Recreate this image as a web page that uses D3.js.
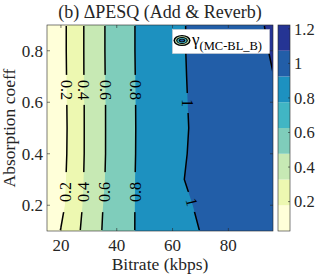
<!DOCTYPE html>
<html>
<head>
<meta charset="utf-8">
<script src="https://cdn.jsdelivr.net/npm/d3@7"></script>
<style>
body { margin: 0; background: #fff; }
text { font-family: "Liberation Serif", "Times New Roman", serif; fill: #262626; }
</style>
</head>
<body>
<svg id="chart" width="332" height="276"></svg>
<script>
// grid: bitrate (columns) x absorption coeff (rows)
const bitrates = [15, 20, 25, 30, 35, 40, 48, 56, 64, 72, 80, 88, 96]
const absorption = [0.1, 0.2, 0.3, 0.4, 0.5, 0.6, 0.7, 0.8, 0.9]
const dPesq = [
  [0.067, 0.208, 0.349, 0.483, 0.609, 0.707, 0.822, 0.892, 0.961, 1.016, 1.05, 1.085, 1.12],
  [0.05, 0.153, 0.32, 0.468, 0.598, 0.697, 0.824, 0.9, 0.981, 1.028, 1.066, 1.102, 1.14],
  [0.04, 0.14, 0.307, 0.456, 0.584, 0.69, 0.824, 0.909, 0.999, 1.037, 1.075, 1.112, 1.15],
  [0.05, 0.129, 0.298, 0.451, 0.579, 0.686, 0.821, 0.905, 0.993, 1.038, 1.079, 1.119, 1.16],
  [0.05, 0.124, 0.297, 0.451, 0.579, 0.685, 0.82, 0.902, 0.989, 1.038, 1.082, 1.126, 1.17],
  [0.05, 0.129, 0.298, 0.451, 0.579, 0.686, 0.821, 0.904, 0.991, 1.042, 1.088, 1.134, 1.18],
  [0.04, 0.132, 0.302, 0.454, 0.582, 0.688, 0.823, 0.906, 0.993, 1.047, 1.097, 1.147, 1.198],
  [0.04, 0.137, 0.303, 0.455, 0.584, 0.69, 0.825, 0.907, 0.995, 1.05, 1.104, 1.157, 1.211],
  [0.03, 0.137, 0.303, 0.455, 0.584, 0.69, 0.825, 0.907, 0.995, 1.053, 1.109, 1.166, 1.222]
]
const levels = [0.2, 0.4, 0.6, 0.8, 1, 1.2]
const palette = ['#ffffd9', '#edf8b1', '#c7e9b4', '#7fcdbb', '#41b6c4', '#1d91c0', '#225ea8', '#253494']
const xTicks = [20, 40, 60, 80]
const yTicks = [0.2, 0.4, 0.6, 0.8]
const cbTicks = [0.2, 0.4, 0.6, 0.8, 1, 1.2]

const nx = bitrates.length, ny = absorption.length
const values = dPesq.flat()
const extent = d3.extent(values)
const color = d3.scaleQuantize().domain(extent).range(palette)

const L = 47, R = 273, T = 25, B = 231
const x = d3.scaleLinear().domain(d3.extent(bitrates)).range([L, R])
const y = d3.scaleLinear().domain(d3.extent(absorption)).range([B, T])
const colIdx = d3.scaleLinear().domain(d3.range(nx)).range(bitrates)
const rowIdx = d3.scaleLinear().domain(d3.range(ny)).range(absorption)

const svg = d3.select('#chart')
const defs = svg.append('defs')
defs.append('clipPath').attr('id', 'clipFill')
  .append('rect').attr('x', L).attr('y', T).attr('width', R - L).attr('height', B - T)
defs.append('clipPath').attr('id', 'clipLine')
  .append('rect').attr('x', L + 1).attr('y', T + 1).attr('width', R - L - 2).attr('height', B - T - 2)

// d3.contours puts grid value i at i+0.5
const clampI = (v, n) => Math.max(0, Math.min(n - 1, v - 0.5))
const project = p => [x(colIdx(clampI(p[0], nx))), y(rowIdx(clampI(p[1], ny)))]
const line = d3.line()
const pathOf = mp => mp.coordinates.map(poly => poly.map(ring => line(ring.map(project)) + 'Z').join('')).join('')

const contours = d3.contours().size([nx, ny]).thresholds(levels)(values)

svg.append('rect').attr('x', L).attr('y', T).attr('width', R - L).attr('height', B - T)
  .attr('fill', color(extent[0]))
svg.append('g').attr('clip-path', 'url(#clipFill)')
  .selectAll('path').data(contours).join('path')
  .attr('d', pathOf)
  .attr('fill-rule', 'evenodd')
  .attr('fill', d => color(d.value))

// where a level crosses a given absorption value
function crossX(level, a) {
  const j = rowIdx.invert(a)
  const j0 = Math.min(ny - 2, Math.floor(j)), t = j - j0
  const row = dPesq[j0].map((v, i) => v + t * (dPesq[j0 + 1][i] - v))
  for (let i = 0; i < nx - 1; i++) {
    if ((row[i] - level) * (row[i + 1] - level) <= 0)
      return bitrates[i] + (level - row[i]) / (row[i + 1] - row[i]) * (bitrates[i + 1] - bitrates[i])
  }
  return null
}

// label spots: level, absorption, rotation, half gap
const spots = []
levels.slice(0, 4).forEach(l => {
  spots.push([l, 0.648, 90, 15])
  spots.push([l, 0.251, -90, 20])
})
spots.push([1, 0.597, 90, 10])
spots.push([1, 0.213, 76, 10])
spots.forEach(s => { s.px = x(crossX(s[0], s[1])); s.py = y(s[1]) })

const mask = defs.append('mask').attr('id', 'gaps')
  .attr('maskUnits', 'userSpaceOnUse').attr('x', 0).attr('y', 0).attr('width', 332).attr('height', 276)
mask.append('rect').attr('width', 332).attr('height', 276).attr('fill', '#fff')
mask.selectAll('.g').data(spots).join('rect')
  .attr('x', d => d.px - 8).attr('y', d => d.py - d[3])
  .attr('width', 16).attr('height', d => 2 * d[3]).attr('fill', '#000')

svg.append('g').attr('clip-path', 'url(#clipLine)')
  .append('g').attr('mask', 'url(#gaps)')
  .selectAll('path').data(contours).join('path')
  .attr('d', pathOf)
  .attr('fill', 'none')
  .attr('stroke', '#000')
  .attr('stroke-width', 1.5)

svg.append('g').selectAll('text').data(spots).join('text')
  .attr('transform', d => `translate(${d.px},${d.py}) rotate(${d[2]})`)
  .attr('text-anchor', 'middle')
  .attr('dy', '0.35em')
  .style('font-size', '16px')
  .style('fill', '#000')
  .text(d => String(d[0]))

// axes box and inner ticks
const ax = svg.append('g').attr('stroke', '#262626').attr('stroke-width', 0.6).attr('fill', 'none')
ax.append('rect').attr('x', L).attr('y', T).attr('width', R - L).attr('height', B - T)
xTicks.forEach(v => {
  ax.append('line').attr('x1', x(v)).attr('x2', x(v)).attr('y1', B).attr('y2', B - 3)
  ax.append('line').attr('x1', x(v)).attr('x2', x(v)).attr('y1', T).attr('y2', T + 3)
})
yTicks.forEach(v => {
  ax.append('line').attr('x1', L).attr('x2', L + 3).attr('y1', y(v)).attr('y2', y(v))
  ax.append('line').attr('x1', R).attr('x2', R - 3).attr('y1', y(v)).attr('y2', y(v))
})

svg.append('g').selectAll('text').data(xTicks).join('text')
  .attr('x', d => x(d)).attr('y', 251)
  .attr('text-anchor', 'middle').style('font-size', '17px')
  .text(d => d)
svg.append('g').selectAll('text').data(yTicks).join('text')
  .attr('x', 43).attr('y', d => y(d)).attr('dy', '0.35em')
  .attr('text-anchor', 'end').style('font-size', '17px')
  .text(d => d)

svg.append('text').attr('x', 160).attr('y', 270).attr('text-anchor', 'middle')
  .style('font-size', '17.5px').text('Bitrate (kbps)')
svg.append('text').attr('transform', `translate(15,${(T + B) / 2}) rotate(-90)`)
  .attr('text-anchor', 'middle').style('font-size', '17.5px').text('Absorption coeff')
svg.append('text').attr('x', 160).attr('y', 18).attr('text-anchor', 'middle')
  .style('font-size', '18px').text('(b) ΔPESQ (Add & Reverb)')

// legend
const lg = svg.append('g')
lg.append('rect').attr('x', 172.5).attr('y', 29.5).attr('width', 97).attr('height', 24)
  .attr('fill', '#fff').attr('stroke', '#d0d0d0').attr('stroke-width', 0.6)
const rings = [[8.5, 5.5, '#000'], [7, 4.3, '#c7e9b4'], [5.8, 3.4, '#000'], [4.6, 2.6, '#41b6c4'], [3.3, 1.8, '#000'], [2, 1, '#225ea8']]
lg.selectAll('ellipse').data(rings).join('ellipse')
  .attr('cx', 182).attr('cy', 40.5).attr('rx', d => d[0]).attr('ry', d => d[1]).attr('fill', d => d[2])
const lt = lg.append('text').attr('x', 192).attr('y', 45).style('font-size', '17px').style('fill', '#000')
lt.append('tspan').text('γ')
lt.append('tspan').attr('dy', 5).style('font-size', '12.5px').text('(MC-BL_B)')

// colorbar
const cbL = 278, cbR = 290
const cb = d3.scaleLinear().domain(extent).range([B, T])
const bands = [extent[0], ...color.thresholds(), extent[1]]
svg.append('g').selectAll('rect').data(palette).join('rect')
  .attr('x', cbL).attr('width', cbR - cbL)
  .attr('y', (d, k) => cb(bands[k + 1]))
  .attr('height', (d, k) => cb(bands[k]) - cb(bands[k + 1]))
  .attr('fill', d => d)
const cbax = svg.append('g').attr('stroke', '#262626').attr('stroke-width', 0.6).attr('fill', 'none')
cbax.append('rect').attr('x', cbL).attr('y', T).attr('width', cbR - cbL).attr('height', B - T)
cbTicks.forEach(v => {
  cbax.append('line').attr('x1', cbR).attr('x2', cbR - 2).attr('y1', cb(v)).attr('y2', cb(v))
})
svg.append('g').selectAll('text').data(cbTicks).join('text')
  .attr('x', 294).attr('y', d => cb(d)).attr('dy', '0.35em')
  .style('font-size', '16.5px')
  .text(d => d)
</script>
</body>
</html>
